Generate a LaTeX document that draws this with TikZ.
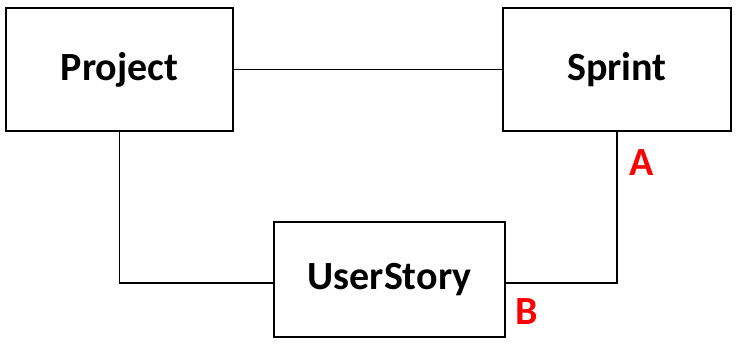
\documentclass[tikz,border=0pt]{standalone}
\usepackage{fontspec}
\setmainfont{Carlito}
\usepackage{tikz}
\usetikzlibrary{positioning,calc}
\definecolor{mark}{HTML}{FF0000}
\tikzset{
  entity/.style={draw, line width=2pt, font=\fontsize{40}{48}\selectfont\bfseries, inner sep=0pt},
  link/.style={line width=1.3pt},
  tag/.style={font=\fontsize{40}{48}\selectfont\bfseries, text=mark}
}

\begin{document}
\begin{tikzpicture}[x=1pt,y=1pt]
  \useasboundingbox (0,0) rectangle (740,357);
  \node[entity, minimum width=227pt, minimum height=123pt] (project) at (119.5,287.5) {Project};
  \node[entity, minimum width=228pt, minimum height=123pt] (sprint) at (617,287.5) {Sprint};
  \node[entity, minimum width=231pt, minimum height=115pt] (story) at (389.5,77.5) {UserStory};
  \coordinate (storyL) at ([yshift=-3.5pt]story.west);
  \coordinate (storyR) at ([yshift=-3.5pt]story.east);
  \draw[link] (project.east) -- (sprint.west);
  \draw[link] (project.south) |- (storyL);
  \draw[link] (storyR) -| (sprint.south);
  \node[tag] (a) at (642,194) {A};
  \node[tag] (b) at (527,45) {B};
\end{tikzpicture}
\end{document}
